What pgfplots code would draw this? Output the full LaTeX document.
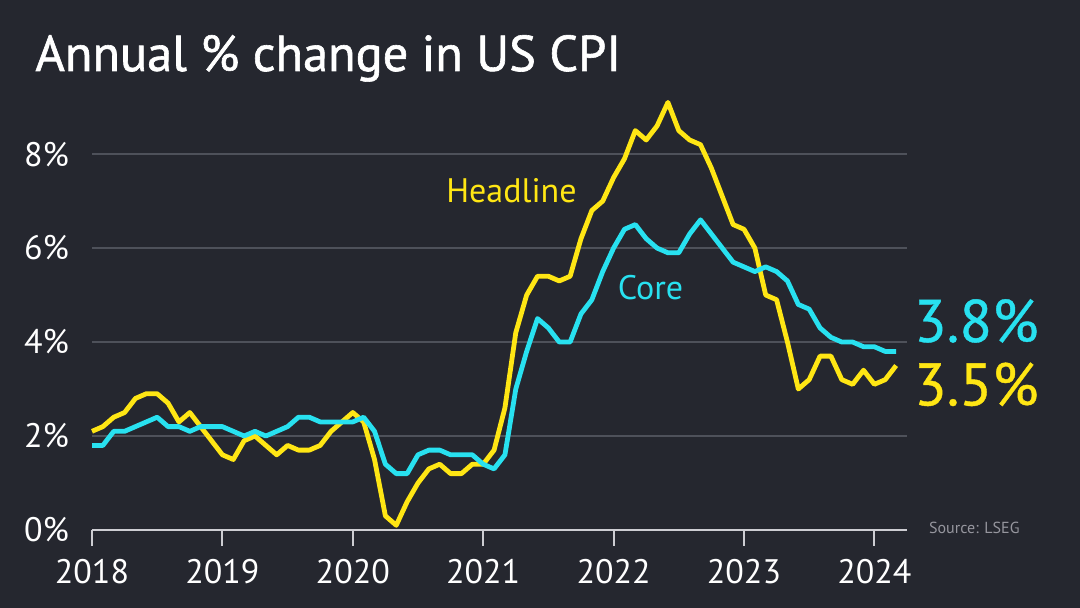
\documentclass[border=0pt]{standalone}
\usepackage{pgfplots}
\pgfplotsset{compat=1.18}
\usepackage{pgfplotstable}
\usepackage{fontspec}
\setmainfont{PT Sans}
\newfontfamily\heavy{PT Sans}[FakeBold=1.2]
\newfontfamily\semiheavy{PT Sans}[FakeBold=0.7]

\definecolor{bg}{RGB}{37,39,47}
\definecolor{headline}{RGB}{255,230,20}
\definecolor{core}{RGB}{40,225,240}
\definecolor{gridgrey}{RGB}{78,81,90}
\definecolor{axisgrey}{RGB}{205,205,210}
\definecolor{srcgrey}{RGB}{150,150,158}

% month index from Jan 2018 (0) to Mar 2024 (74)
\pgfplotstableread{
m  headline core
0  2.1 1.8
1  2.2 1.8
2  2.4 2.1
3  2.5 2.1
4  2.8 2.2
5  2.9 2.3
6  2.9 2.4
7  2.7 2.2
8  2.3 2.2
9  2.5 2.1
10 2.2 2.2
11 1.9 2.2
12 1.6 2.2
13 1.5 2.1
14 1.9 2.0
15 2.0 2.1
16 1.8 2.0
17 1.6 2.1
18 1.8 2.2
19 1.7 2.4
20 1.7 2.4
21 1.8 2.3
22 2.1 2.3
23 2.3 2.3
24 2.5 2.3
25 2.3 2.4
26 1.5 2.1
27 0.3 1.4
28 0.1 1.2
29 0.6 1.2
30 1.0 1.6
31 1.3 1.7
32 1.4 1.7
33 1.2 1.6
34 1.2 1.6
35 1.4 1.6
36 1.4 1.4
37 1.7 1.3
38 2.6 1.6
39 4.2 3.0
40 5.0 3.8
41 5.4 4.5
42 5.4 4.3
43 5.3 4.0
44 5.4 4.0
45 6.2 4.6
46 6.8 4.9
47 7.0 5.5
48 7.5 6.0
49 7.9 6.4
50 8.5 6.5
51 8.3 6.2
52 8.6 6.0
53 9.1 5.9
54 8.5 5.9
55 8.3 6.3
56 8.2 6.6
57 7.7 6.3
58 7.1 6.0
59 6.5 5.7
60 6.4 5.6
61 6.0 5.5
62 5.0 5.6
63 4.9 5.5
64 4.0 5.3
65 3.0 4.8
66 3.2 4.7
67 3.7 4.3
68 3.7 4.1
69 3.2 4.0
70 3.1 4.0
71 3.4 3.9
72 3.1 3.9
73 3.2 3.8
74 3.5 3.8
}\cpi

\begin{document}
\begin{tikzpicture}
\fill[bg] (0,0) rectangle (540pt,304pt);
\node[anchor=base west, text=white, inner sep=0pt,
      font=\heavy\fontsize{25.2}{29}\selectfont] at (17.5pt,268.5pt) {Annual \% change in US CPI};
\begin{axis}[
    at={(46pt,39pt)}, anchor=south west,
    scale only axis,
    width=407.5pt, height=218.5pt,
    xmin=0, xmax=75,
    ymin=0, ymax=9.3,
    axis lines*=left,
    y axis line style={draw=none},
    x axis line style={axisgrey, line width=1pt},
    xtick={0,12,24,36,48,60,72},
    xticklabels={2018,2019,2020,2021,2022,2023,2024},
    ytick={0,2,4,6,8},
    yticklabel={\pgfmathprintnumber{\tick}\%},
    /pgf/number format/assume math mode=true,
    tick align=outside,
    major tick length=8pt,
    xtick style={axisgrey, line width=1pt},
    ytick style={draw=none},
    ymajorgrids=true,
    grid style={gridgrey, line width=0.8pt},
    ticklabel style={text=white, font=\fontsize{17}{20}\selectfont},
    xticklabel style={yshift=-3pt},
    clip=false,
]
\addplot[headline, line width=2.4pt, line join=round] table[x=m, y=headline] {\cpi};
\addplot[core, line width=2.4pt, line join=round] table[x=m, y=core] {\cpi};
\node[text=headline, font=\fontsize{17}{20}\selectfont] at (axis cs:38.6,7.23) {Headline};
\node[text=core, font=\fontsize{17}{20}\selectfont] at (axis cs:51.4,5.15) {Core};
\node[anchor=west, inner sep=0pt, text=core, font=\semiheavy\fontsize{30}{34}\selectfont] at (axis cs:75.6,4.45) {3.8\%};
\node[anchor=west, inner sep=0pt, text=headline, font=\semiheavy\fontsize{30}{34}\selectfont] at (axis cs:75.6,3.1) {3.5\%};
\node[anchor=west, inner sep=0pt, text=srcgrey, font=\fontsize{8}{10}\selectfont] at (axis cs:77.0,0.04) {Source: LSEG};
\end{axis}
\end{tikzpicture}
\end{document}
